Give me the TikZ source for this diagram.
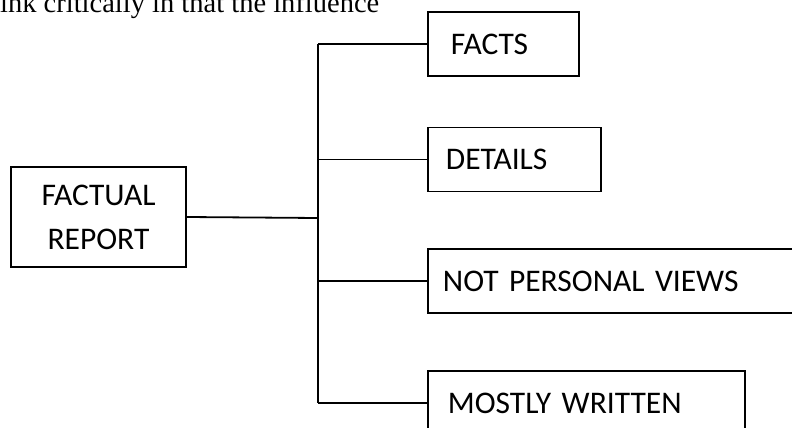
\documentclass[tikz,border=0pt]{standalone}
\usepackage{fontspec}
\setmainfont{Carlito}
\newfontfamily\pagefont{Liberation Serif}
\usetikzlibrary{positioning}

\tikzset{
	treebox/.style={draw, line width=1.8pt, inner xsep=0pt, inner ysep=0pt,
		font=\fontsize{31.5}{44}\selectfont},
	leafbox/.style={treebox, anchor=west, minimum height=64pt, align=left},
	branch/.style={line width=1.8pt}
}

\begin{document}
\begin{tikzpicture}[x=1pt, y=-1pt]
		\useasboundingbox (0,0) rectangle (792,428);
		\clip (0,0) rectangle (792,428);

		% Line of page text cut at the top
		\node[anchor=base west, inner sep=0pt, font=\pagefont\fontsize{28.5}{34}\selectfont] (pagetext) at (0,13) {ink critically in that the influence};

		% Root of the tree
		\node[treebox, minimum width=175pt, minimum height=100pt, align=center] (report) at (98.5,217) {FACTUAL\\REPORT};

		% Leaves
		\node[leafbox, text width=151pt] (facts) at (427,44) {\hspace*{23pt}FACTS};
		\node[leafbox, text width=173pt] (details) at (427,159.5) {\hspace*{18pt}DETAILS};
		\node[leafbox, text width=380pt] (views) at (427,281) {\hspace*{15pt}NOT PERSONAL VIEWS};
		\node[leafbox, text width=317pt] (written) at (427,403) {\hspace*{20pt}MOSTLY WRITTEN};

		% Trunk
		\coordinate (joint) at (318,218);
		\draw[branch] (report.east) -- (joint);
		\draw[branch] (joint |- facts.west) -- (joint |- written.west);

		% Branches to the leaves
		\foreach \leaf in {facts, details, views, written}
			\draw[branch] (joint |- \leaf.west) -- (\leaf.west);
	\end{tikzpicture}
\end{document}
